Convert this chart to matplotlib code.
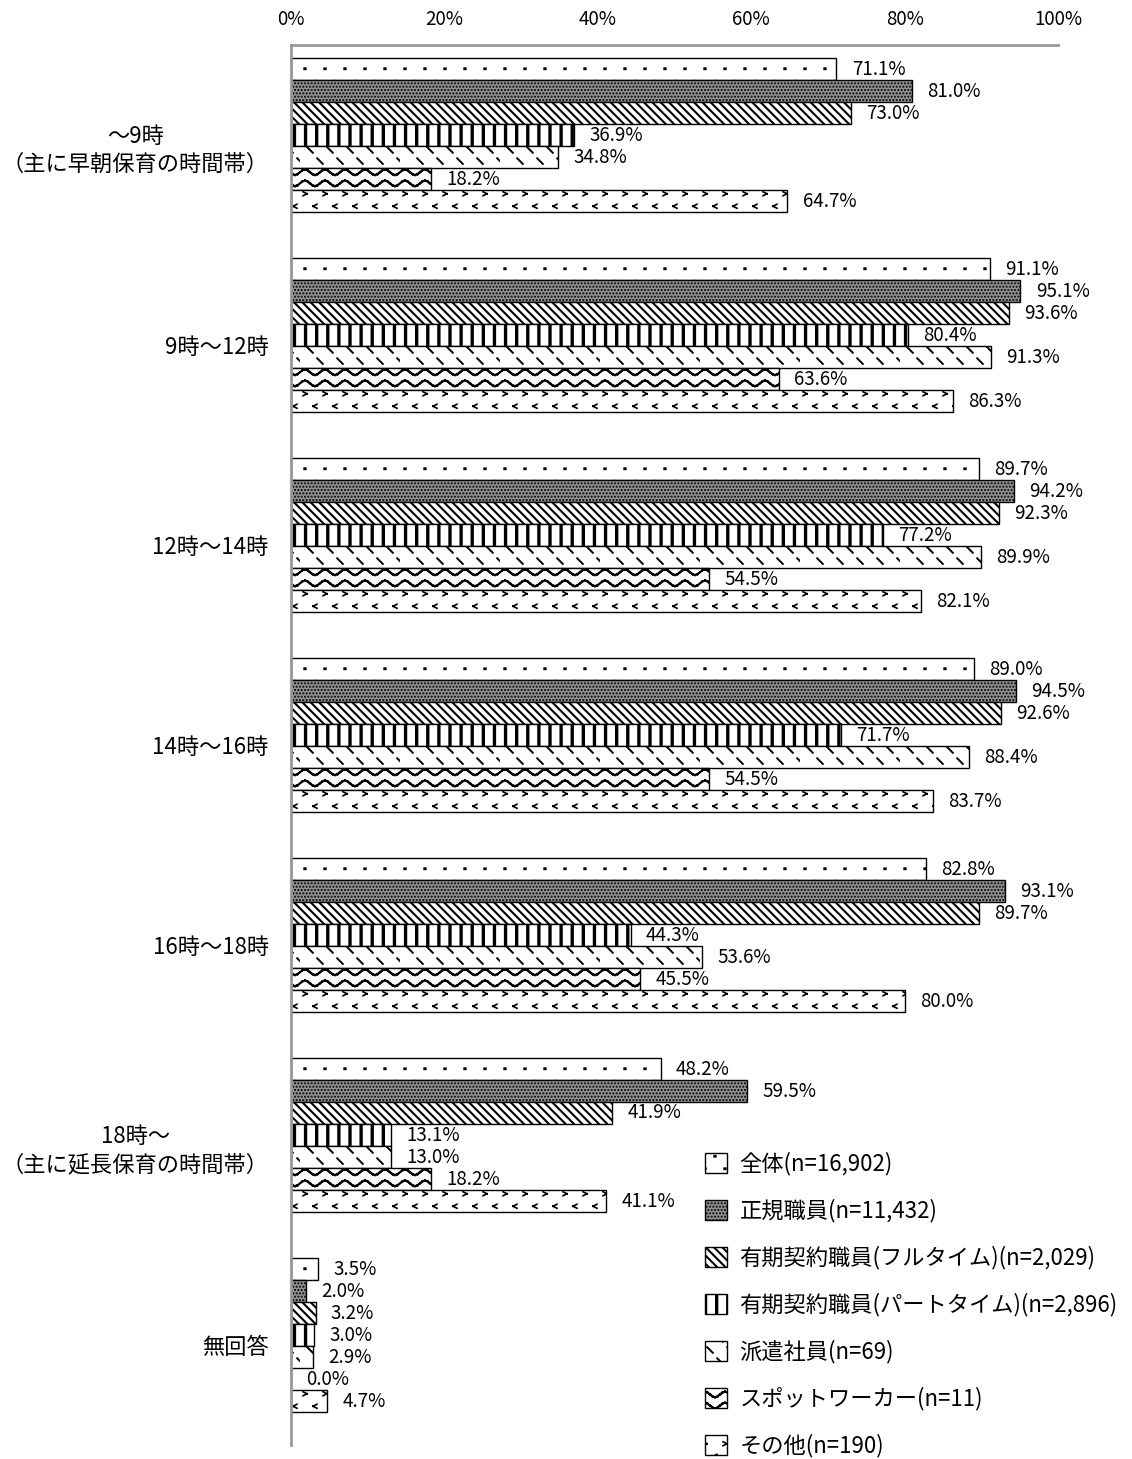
import numpy as np
import matplotlib.pyplot as plt
from matplotlib import hatch as mhatch
from matplotlib.path import Path
from matplotlib.transforms import ScaledTranslation

plt.rcParams['font.family'] = ['Noto Sans CJK JP', 'DejaVu Sans']
plt.rcParams['hatch.linewidth'] = 1.0


# extra hatch patterns drawn as short segments in the unit hatch tile
class SegmentHatch(mhatch.HatchPatternBase):
    char = None

    def __init__(self, hatch, density):
        self.segs = self.segments() if (hatch and self.char in hatch) else []
        self.num_vertices = 2 * len(self.segs)

    def set_vertices_and_codes(self, vertices, codes):
        for k, (p, q) in enumerate(self.segs):
            vertices[2*k] = p
            vertices[2*k + 1] = q
            codes[2*k] = Path.MOVETO
            codes[2*k + 1] = Path.LINETO

    get_vertices_and_codes = set_vertices_and_codes


class Waves(SegmentHatch):
    char = 'z'

    def segments(self):
        rows, periods, steps, amp = 9, 5, 8, 0.028
        xs = np.linspace(0, 1, periods * steps + 1)
        out = []
        for r in range(rows):
            yc = (r + 0.5) / rows
            ys = yc + amp * np.sin(2 * np.pi * periods * xs)
            for j in range(len(xs) - 1):
                out.append(((xs[j], ys[j]), (xs[j+1], ys[j+1])))
        return out


class Chevrons(SegmentHatch):
    char = 'c'

    def segments(self):
        rows, cols, w = 8, 5, 0.02
        out = []
        for r in range(rows):
            yc = (r + 0.5) / rows
            d = 1 if r % 2 == 0 else -1
            for c in range(cols):
                xc = (c + 0.25 + 0.5 * (r % 2)) / cols
                tip = (xc + d*w, yc)
                out.append(((xc - d*w, yc + w), tip))
                out.append(((xc - d*w, yc - w), tip))
        return out


class Dots(SegmentHatch):
    char = 'd'

    def segments(self):
        rows, cols, w = 8, 5, 0.003
        out = []
        for r in range(rows):
            yc = (r + 0.5) / rows
            for c in range(cols):
                xc = (c + 0.25 + 0.5 * (r % 2)) / cols
                out.append(((xc - w, yc), (xc + w, yc)))
        return out


class Dashes(SegmentHatch):
    char = 'e'

    def segments(self):
        rows, cols, w = 9, 5, 0.028
        out = []
        for r in range(rows):
            yc = (r + 0.5) / rows
            for c in range(cols):
                xc = (c + 0.5 + 0.5 * (r % 2)) / cols
                out.append(((xc - w, yc + w), (xc + w, yc - w)))
        return out


class Bars(SegmentHatch):
    char = 'k'

    def segments(self):
        n = 9
        return [(((i + 0.5) / n, 0.0), ((i + 0.5) / n, 1.0)) for i in range(n)]


mhatch._hatch_types.extend([Waves, Chevrons, Dots, Dashes, Bars])

periods = ["～9時\n（主に早朝保育の時間帯）", "9時～12時", "12時～14時", "14時～16時",
           "16時～18時", "18時～\n（主に延長保育の時間帯）", "無回答"]

series_names = ["全体(n=16,902)", "正規職員(n=11,432)", "有期契約職員(フルタイム)(n=2,029)",
                "有期契約職員(パートタイム)(n=2,896)", "派遣社員(n=69)",
                "スポットワーカー(n=11)", "その他(n=190)"]

zentai = [71.1, 91.1, 89.7, 89.0, 82.8, 48.2, 3.5]
seiki = [81.0, 95.1, 94.2, 94.5, 93.1, 59.5, 2.0]
full_time = [73.0, 93.6, 92.3, 92.6, 89.7, 41.9, 3.2]
part_time = [36.9, 80.4, 77.2, 71.7, 44.3, 13.1, 3.0]
haken = [34.8, 91.3, 89.9, 88.4, 53.6, 13.0, 2.9]
spot = [18.2, 63.6, 54.5, 54.5, 45.5, 18.2, 0.0]
sonota = [64.7, 86.3, 82.1, 83.7, 80.0, 41.1, 4.7]

series = [zentai, seiki, full_time, part_time, haken, spot, sonota]
faces = ['white', '#929292', 'white', 'white', 'white', 'white', 'white']
hatches = ['d', '.....', '\\\\\\\\', 'k', 'e', 'z', 'c']
hatch_lw = [2.0, 1.0, 1.5, 2.4, 1.4, 1.6, 1.2]

fs_num = 13.5
fs_txt = 16

fig = plt.figure(figsize=(11.32, 14.59), dpi=100)
ax = fig.add_axes([291/1132, 1-1445/1459, (1058-291)/1132, 1400/1459])

h = 0.11
y = np.arange(len(periods))
for i, vals in enumerate(series):
    pos = y - 3*h + i*h
    bars = ax.barh(pos, vals, height=h, color=faces[i], edgecolor='black',
                   linewidth=1.0, hatch=hatches[i], label=series_names[i])
    for b in bars:
        try:
            b.set_hatch_linewidth(hatch_lw[i])
        except AttributeError:
            pass
    for b, v in zip(bars, vals):
        ax.text(v + 2.0, b.get_y() + h/2, f"{v:.1f}%", va='center', ha='left', fontsize=fs_num)

ax.set_xlim(0, 100)
ax.set_ylim(6.55, -0.45)
ax.xaxis.tick_top()
ax.set_xticks(np.arange(0, 101, 20))
ax.set_xticklabels([f"{t}%" for t in range(0, 101, 20)], fontsize=fs_num)
ax.set_yticks(y)
ax.set_yticklabels(periods, fontsize=fs_txt, multialignment='center', linespacing=1.3)
ax.tick_params(length=0, pad=16)
ax.tick_params(axis='x', pad=11)
shift = ScaledTranslation(0, -10/100, fig.dpi_scale_trans)
for lab in ax.get_yticklabels():
    lab.set_transform(lab.get_transform() + shift)
for s in ['right', 'bottom']:
    ax.spines[s].set_visible(False)
for s in ['left', 'top']:
    ax.spines[s].set_color('#999999')
    ax.spines[s].set_linewidth(2)

leg = fig.legend(loc='upper left', bbox_to_anchor=(705/1132, 1-1152/1459), frameon=False,
                 fontsize=fs_txt, handlelength=1.0, handleheight=1.0, handletextpad=0.55,
                 labelspacing=1.05, borderaxespad=0, borderpad=0)
for p, lw in zip(leg.get_patches(), hatch_lw):
    try:
        p.set_hatch_linewidth(lw)
    except AttributeError:
        pass

fig.savefig("out.png", dpi=100)
